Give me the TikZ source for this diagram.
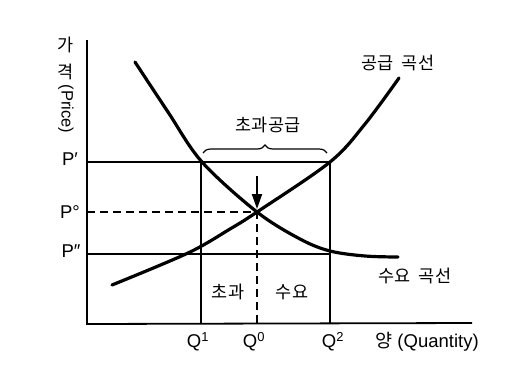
\documentclass[tikz,border=0pt]{standalone}
\usepackage{fontspec}
\setmainfont{Liberation Sans}
\newfontfamily\kr{Noto Sans CJK KR}
\usetikzlibrary{arrows.meta,decorations.pathreplacing}
\begin{document}
\begin{tikzpicture}[x={(1pt,0pt)}, y={(0pt,-1pt)}]
  \tikzstyle{lbl}=[inner sep=0pt, font=\fontsize{18.5}{20}\selectfont]
  \tikzstyle{kor}=[inner sep=0pt, font=\kr\fontsize{17.5}{19}\selectfont]
  \tikzstyle{guide}=[line width=1.3pt]
  \tikzstyle{curve}=[line width=3.2pt, line cap=round, smooth, tension=0.55]

\useasboundingbox (0,0) rectangle (511,383);

% axes
\coordinate (top) at (87,40);
\coordinate (O) at (87,324);
\coordinate (end) at (472,323);
\draw[line width=1.8pt] (top) -- (O) -- (end);

% price and quantity lines
\coordinate (p1) at (87,162);
\coordinate (a1) at (201,162);
\coordinate (b1) at (330,162);
\coordinate (p0) at (87,212);
\coordinate (e) at (257,212);
\coordinate (p2) at (87,254);
\coordinate (b2) at (330,254);
\coordinate (q1) at (201,324);
\coordinate (q0) at (257,324);
\coordinate (q2) at (330,324);
\draw[guide] (p1) -- (b1);
\draw[guide] (p2) -- (b2);
\draw[guide] (a1) -- (q1);
\draw[guide] (b1) -- (q2);
\draw[guide, dash pattern=on 8pt off 5pt] (p0) -- (e) -- (q0);

% supply and demand curves
\draw[curve] plot coordinates {(112,285) (188,253) (230,229) (257,212) (330,162) (365,124) (399,78)};
\draw[curve] plot coordinates {(135,62) (168,112) (202,162) (257,212) (300,239) (330,251) (365,256) (398,257)};

% arrow to equilibrium
\coordinate (atop) at (257,176);
\draw[line width=2pt, -{Triangle[length=15pt,width=10pt]}, shorten >=3pt] (atop) -- (e);

% brace
\coordinate (br1) at (203,153);
\coordinate (br2) at (327,153);
\draw[line width=1.2pt, decorate, decoration={brace, amplitude=8pt}] (br1) -- (br2);
\node[kor] (excs) at (268,125) {초과공급};

% axis labels
\node[kor] (ga) at (66,45) {가};
\node[kor] (gyeok) at (66,72) {격};
\node[lbl, rotate=-90, font=\fontsize{16.5}{18}\selectfont] (price) at (66,109) {(Price)};
\node[lbl] (lp1) at (70,159) {P′};
\node[lbl] (lp0) at (70,212) {P°};
\node[lbl] (lp2) at (71,251) {P″};
\node[lbl] (lq1) at (198,342) {Q\textsuperscript{1}};
\node[lbl] (lq0) at (254,342) {Q\textsuperscript{0}};
\node[lbl] (lq2) at (333,342) {Q\textsuperscript{2}};
\node[lbl] (lqty) at (427,342) {{\kr 양} (Quantity)};

% curve and area labels
\node[kor] (lsup) at (398,63) {공급\ \ 곡선};
\node[kor] (ldem) at (415,276) {수요\ \ 곡선};
\node[kor] (ex1) at (228,292) {초과};
\node[kor] (ex2) at (292,292) {수요};
\end{tikzpicture}
\end{document}
